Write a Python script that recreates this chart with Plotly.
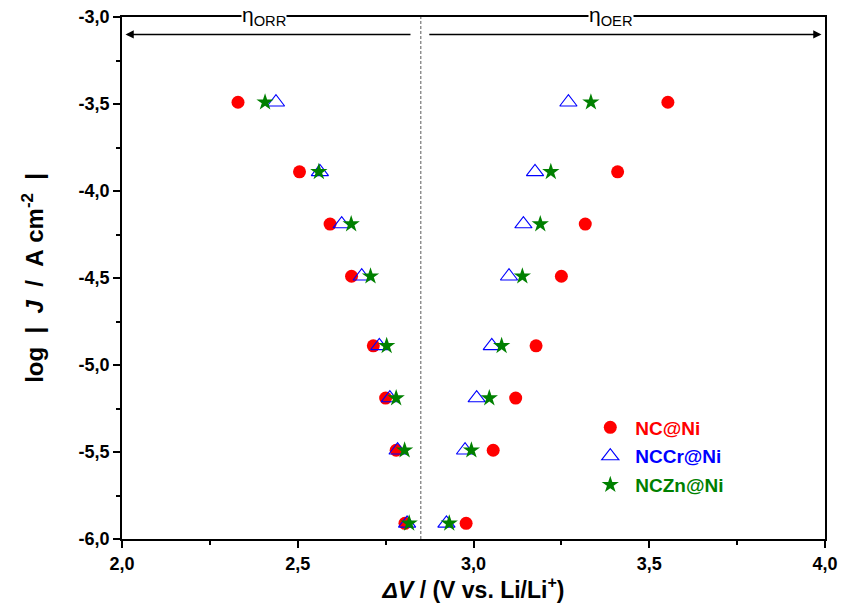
import plotly.graph_objects as go

# log|J| levels (A cm^-2)
log_j = [-3.49, -3.89, -4.19, -4.49, -4.89, -5.19, -5.49, -5.91]

# Potentials (V vs. Li/Li+) for ORR (discharge) and OER (charge) branches
nc_orr = [2.33, 2.505, 2.592, 2.653, 2.715, 2.75, 2.78, 2.805]
nc_oer = [3.553, 3.41, 3.318, 3.25, 3.178, 3.12, 3.056, 2.979]
nccr_orr = [2.438, 2.563, 2.625, 2.682, 2.732, 2.762, 2.784, 2.811]
nccr_oer = [3.27, 3.175, 3.142, 3.101, 3.052, 3.009, 2.976, 2.923]
nczn_orr = [2.407, 2.56, 2.652, 2.707, 2.753, 2.78, 2.804, 2.817]
nczn_oer = [3.334, 3.22, 3.19, 3.139, 3.08, 3.045, 2.994, 2.931]

equilibrium = 2.85
x_ticks = [2.0, 2.5, 3.0, 3.5, 4.0]
y_ticks = [-3.0, -3.5, -4.0, -4.5, -5.0, -5.5, -6.0]

FONT = "Liberation Sans"
NB = "\u00a0"


def bold_labels(vals):
    # decimal comma labels, bold
    return [f"<b>{v:.1f}</b>".replace(".", ",") for v in vals]


series = [
    ("NC@Ni", nc_orr, nc_oer, "#ff0000", dict(symbol="circle", size=13, color="#ff0000")),
    ("NCCr@Ni", nccr_orr, nccr_oer, "#0000ff",
     dict(symbol="triangle-up-open", size=15, color="#0000ff", line=dict(width=1.1, color="#0000ff"))),
    ("NCZn@Ni", nczn_orr, nczn_oer, "#008000", dict(symbol="star", size=13, color="#008000", line=dict(width=0))),
]

fig = go.Figure()
for name, orr, oer, col, marker in series:
    fig.add_trace(go.Scatter(
        x=orr + oer, y=log_j + log_j, mode="markers", marker=marker,
        name=f"<span style='color:{col}'><b>{name}</b></span>", legendgroup=name,
    ))

# dashed line at the equilibrium potential
fig.add_shape(type="line", xref="x", yref="y", x0=equilibrium, x1=equilibrium, y0=-6.0, y1=-3.0,
              line=dict(color="#808080", width=1.3, dash="3px,2px"))

# overpotential arrows
arrow_y = -3.1
fig.add_annotation(x=2.01, y=arrow_y, ax=equilibrium - 0.025, ay=arrow_y, xref="x", yref="y",
                   axref="x", ayref="y", showarrow=True, arrowhead=2, arrowsize=1.1, arrowwidth=1.5,
                   arrowcolor="black", text="")
fig.add_annotation(x=3.99, y=arrow_y, ax=equilibrium + 0.02, ay=arrow_y, xref="x", yref="y",
                   axref="x", ayref="y", showarrow=True, arrowhead=2, arrowsize=1.1, arrowwidth=1.5,
                   arrowcolor="black", text="")

for label, xpos in [("η<sub>ORR</sub>", 2.405), ("η<sub>OER</sub>", 3.39)]:
    fig.add_annotation(x=xpos, y=-3.0, xref="x", yref="y", text=label, showarrow=False,
                       font=dict(family=FONT, size=21, color="black"), bgcolor="white",
                       borderpad=0, yanchor="middle", yshift=1)

axis_common = dict(
    showline=True, linecolor="black", linewidth=1.8, mirror=True, ticks="outside",
    ticklen=7, tickwidth=1.6, tickcolor="black", showgrid=False, zeroline=False,
    automargin=False,
    tickfont=dict(family=FONT, size=18, color="black"),
)

fig.update_xaxes(
    range=[2.0, 4.0], tickvals=x_ticks, ticktext=bold_labels(x_ticks),
    minor=dict(ticks="outside", ticklen=4, tickwidth=1.6, tickcolor="black", dtick=0.25),
    title=dict(text=f"<b><i>ΔV</i>{NB}/{NB}(V vs. Li/Li<sup>+</sup>)</b>", standoff=2,
               font=dict(family=FONT, size=23, color="black")),
    **axis_common,
)
fig.update_yaxes(
    range=[-6.0, -3.0], tickvals=y_ticks, ticktext=bold_labels(y_ticks),
    minor=dict(ticks="outside", ticklen=4, tickwidth=1.6, tickcolor="black", dtick=0.25),
    title=dict(text=f"<b>log{NB}{NB}|{NB}{NB}<i>J</i>{NB}{NB}/{NB}{NB}A{NB}cm<sup>-2</sup>{NB}{NB}|</b>",
               standoff=28, font=dict(family=FONT, size=24, color="black")),
    **axis_common,
)

fig.update_layout(
    width=842, height=603, margin=dict(l=122, r=17, t=17, b=64),
    plot_bgcolor="white", paper_bgcolor="white",
    legend=dict(x=0.659, y=0.25, xanchor="left", yanchor="top", bgcolor="rgba(0,0,0,0)",
                font=dict(family=FONT, size=19), itemwidth=40, tracegroupgap=1),
)

fig.write_html("out.html")
